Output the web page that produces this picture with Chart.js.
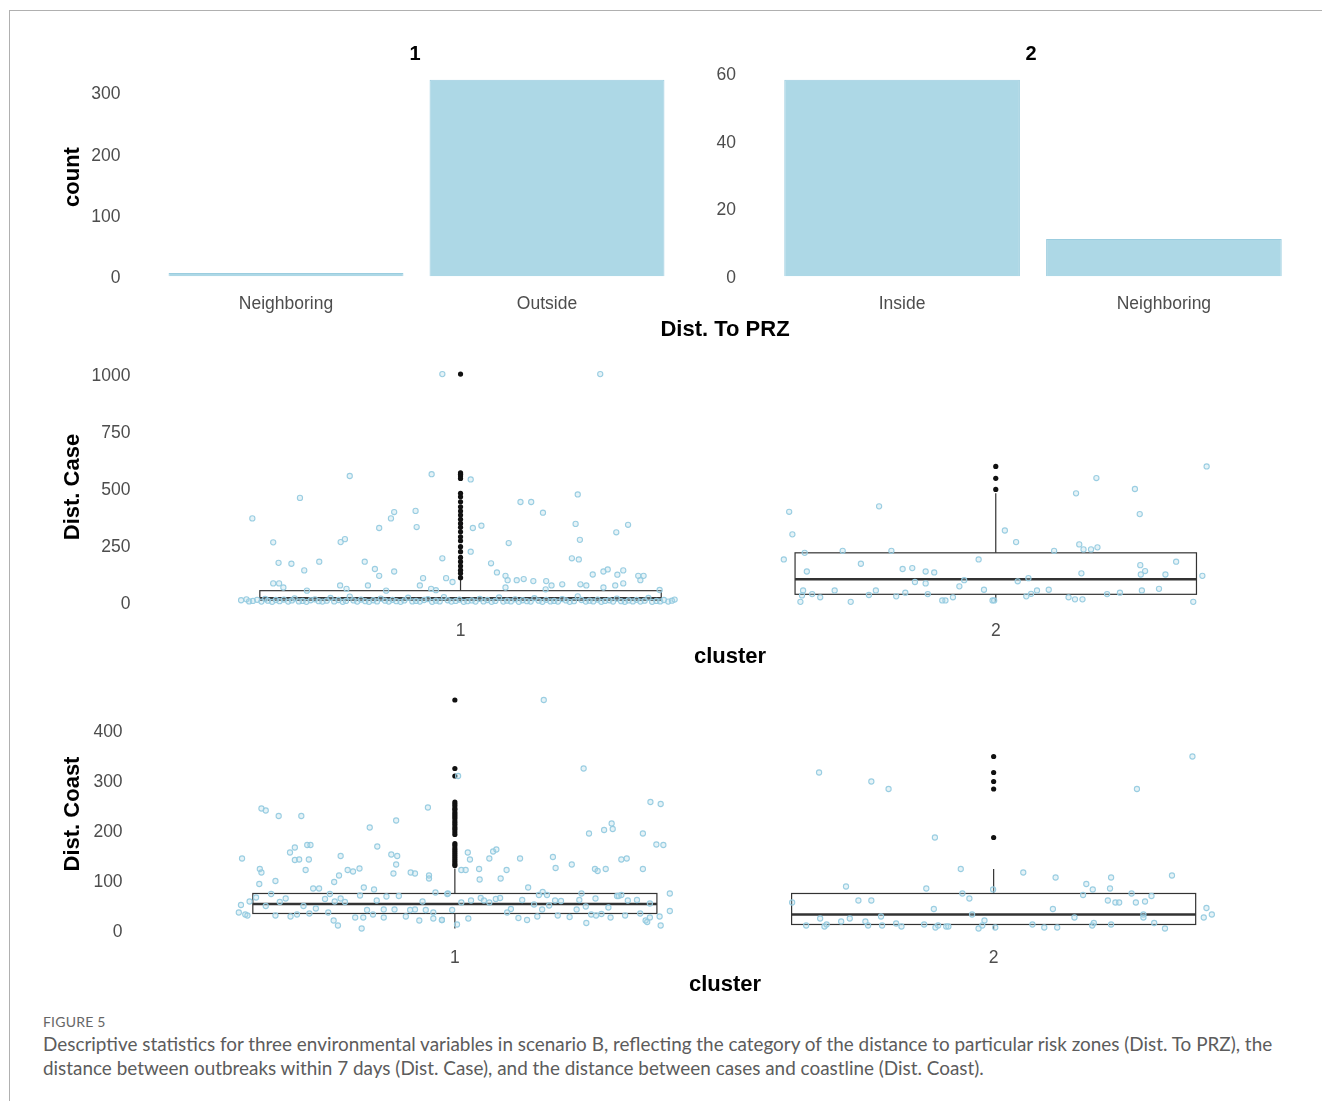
<!DOCTYPE html>
<html>
<head>
<meta charset="utf-8">
<script src="https://cdn.jsdelivr.net/npm/chart.js@4.4.1/dist/chart.umd.min.js"></script>
<style>
  body { margin: 0; background: #fff; width: 1322px; height: 1101px; position: relative; overflow: hidden; font-family: "Liberation Sans", Arial, sans-serif; }
  .frame { position: absolute; left: 9px; top: 10px; width: 1320px; height: 1100px; border-left: 1px solid #b0b0b0; border-top: 1px solid #b0b0b0; }
  .panel { position: absolute; }
  .title { position: absolute; font-weight: bold; color: #000; font-size: 22px; white-space: nowrap; transform: translate(-50%, -50%); }
  .ytitle { transform: translate(-50%, -50%) rotate(-90deg); }
  .strip { font-size: 20px; }
  .figlabel { position: absolute; left: 43px; top: 1013px; font-family: Lato, "Open Sans", sans-serif; font-size: 14px; color: #666; letter-spacing: 0.2px; }
  .caption { position: absolute; left: 43px; font-family: Lato, "Open Sans", sans-serif; font-size: 18.9px; color: #5c5c5c; white-space: nowrap; }
</style>
</head>
<body>
<div class="frame"></div>

<div class="panel" style="left:30px; top:60px; width:680px; height:260px;"><canvas id="przChart1"></canvas></div>
<div class="panel" style="left:710px; top:60px; width:612px; height:260px;"><canvas id="przChart2"></canvas></div>
<div class="panel" style="left:30px; top:350px; width:1292px; height:300px;"><canvas id="caseChart"></canvas></div>
<div class="panel" style="left:30px; top:680px; width:1292px; height:295px;"><canvas id="coastChart"></canvas></div>

<div class="title strip" style="left:415px; top:53px;">1</div>
<div class="title strip" style="left:1031px; top:53px;">2</div>
<div class="title ytitle" style="left:72px; top:177px;">count</div>
<div class="title" style="left:725px; top:329px;">Dist. To PRZ</div>
<div class="title ytitle" style="left:72px; top:487px;">Dist. Case</div>
<div class="title" style="left:730px; top:656px;">cluster</div>
<div class="title ytitle" style="left:72px; top:814px;">Dist. Coast</div>
<div class="title" style="left:725px; top:984px;">cluster</div>

<div class="figlabel">FIGURE 5</div>
<div class="caption" style="top:1032px;">Descriptive statistics for three environmental variables in scenario B, reflecting the category of the distance to particular risk zones (Dist. To PRZ), the</div>
<div class="caption" style="top:1056px;">distance between outbreaks within 7 days (Dist. Case), and the distance between cases and coastline (Dist. Coast).</div>

<script>
// top row: counts per Dist. To PRZ category, one facet per cluster
const przCats1 = ["Neighboring", "Outside"];
const przCounts1 = [5, 321];
const przCats2 = ["Inside", "Neighboring"];
const przCounts2 = [58, 11];
const countTicks1 = [0, 100, 200, 300];
const countTicks2 = [0, 20, 40, 60];

const clusterLabels = ["1", "2"];
const caseTicks = [0, 250, 500, 750, 1000];
const coastTicks = [0, 100, 200, 300, 400];

// box stats: [lower whisker, q1, median, q3, upper whisker]
const caseStats = [[0, 8, 17, 50, 105], [3, 34, 100, 216, 477]];
const coastStats = [[4, 34, 53, 74, 124], [2, 12, 32, 74, 123]];

const caseOutliers1 = [1000, 567, 561, 553, 542, 477, 462, 440, 418, 399, 382, 363, 345, 328, 308, 286, 269, 243, 221, 196, 177, 158, 140, 126, 107];
const caseOutliers2 = [595, 543, 494];
const coastOutliers1 = [461, 324, 309, 257, 253, 249, 244, 241, 236, 232, 228, 224, 219, 215, 211, 206, 202, 197, 192, 174, 170, 165, 161, 157, 153, 149, 145, 141, 137, 133, 130];
const coastOutliers2 = [348, 316, 298, 283, 186];

// jittered points: [horizontal offset from cluster, value]
const caseJitter1 = [
  [-0.389, 367], [-0.207, 553], [-0.300, 457], [-0.350, 262], [-0.340, 172], [-0.316, 168], [-0.292, 139], [-0.264, 177],
  [-0.224, 263], [-0.216, 276], [-0.179, 177], [-0.160, 145], [-0.152, 115], [-0.124, 134], [-0.152, 325], [-0.130, 367],
  [-0.124, 395], [-0.084, 400], [-0.082, 329], [-0.054, 561], [-0.034, 1000], [-0.034, 192], [-0.070, 105], [-0.027, 105],
  [-0.350, 82], [-0.339, 82], [-0.331, 64], [-0.225, 73], [-0.213, 58], [-0.173, 73], [-0.076, 73], [-0.055, 58],
  [-0.046, 52], [-0.287, 50], [-0.139, 50],
  [0.261, 1000], [0.019, 538], [0.112, 439], [0.132, 439], [0.154, 392], [0.219, 472], [0.215, 343], [0.223, 273],
  [0.023, 325], [0.039, 335], [0.090, 259], [0.019, 221], [0.057, 170], [0.068, 130], [0.084, 115], [0.088, 96],
  [0.105, 96], [0.118, 101], [0.136, 92], [0.160, 92], [0.170, 73], [0.190, 78], [0.208, 192], [0.221, 187],
  [0.224, 78], [0.235, 73], [0.247, 121], [0.267, 134], [0.275, 143], [0.267, 64], [0.291, 306], [0.313, 339],
  [0.293, 120], [0.304, 139], [0.289, 73], [0.304, 82], [0.332, 115], [0.342, 115], [0.336, 96], [0.372, 53],
  [-0.015, 88], [0.084, 64], [0.159, 56],
  [-0.41, 8], [-0.40, 12], [-0.395, 3], [-0.388, 5], [-0.38, 10], [-0.372, 2], [-0.365, 14], [-0.36, 6],
  [-0.352, 1], [-0.345, 9], [-0.338, 4], [-0.33, 11], [-0.322, 2], [-0.315, 7], [-0.31, 16], [-0.302, 3],
  [-0.295, 5], [-0.288, 1], [-0.28, 8], [-0.272, 12], [-0.265, 4], [-0.258, 2], [-0.25, 6], [-0.243, 18],
  [-0.236, 3], [-0.228, 9], [-0.22, 1], [-0.214, 5], [-0.207, 24], [-0.2, 7], [-0.193, 2], [-0.186, 11],
  [-0.178, 4], [-0.171, 1], [-0.163, 8], [-0.156, 3], [-0.149, 15], [-0.141, 6], [-0.134, 2], [-0.127, 10],
  [-0.12, 4], [-0.112, 1], [-0.105, 7], [-0.098, 19], [-0.09, 3], [-0.083, 5], [-0.076, 2], [-0.068, 9],
  [-0.061, 13], [-0.053, 1], [-0.046, 6], [-0.039, 3], [-0.031, 22], [-0.024, 8], [-0.017, 2], [-0.009, 5],
  [-0.002, 11], [0.006, 1], [0.013, 4], [0.021, 7], [0.028, 2], [0.036, 14], [0.043, 3], [0.05, 9],
  [0.058, 1], [0.065, 5], [0.072, 20], [0.08, 2], [0.087, 6], [0.094, 3], [0.102, 12], [0.109, 1],
  [0.116, 8], [0.124, 4], [0.131, 2], [0.138, 17], [0.146, 6], [0.153, 1], [0.16, 10], [0.168, 3],
  [0.175, 5], [0.182, 2], [0.19, 13], [0.197, 7], [0.204, 1], [0.212, 4], [0.219, 25], [0.226, 9],
  [0.234, 2], [0.241, 6], [0.248, 3], [0.256, 11], [0.263, 1], [0.27, 5], [0.278, 8], [0.285, 2],
  [0.292, 15], [0.3, 4], [0.307, 1], [0.314, 7], [0.322, 3], [0.329, 10], [0.336, 2], [0.344, 6],
  [0.351, 18], [0.358, 1], [0.366, 5], [0.373, 3], [0.38, 9], [0.388, 2], [0.395, 6], [0.4, 11],
];
const caseJitter2 = [
  [-0.386, 396], [-0.380, 297], [-0.396, 187], [-0.357, 216], [-0.353, 134], [-0.360, 51], [-0.362, 29], [-0.343, 35],
  [-0.328, 21], [-0.365, 1], [-0.301, 51], [-0.286, 225], [-0.271, 1], [-0.252, 168], [-0.237, 31], [-0.224, 51],
  [-0.218, 420], [-0.195, 225], [-0.186, 25], [-0.169, 41], [-0.174, 145], [-0.156, 149], [-0.131, 134], [-0.115, 130],
  [-0.151, 88], [-0.131, 82], [-0.127, 35], [-0.100, 7], [-0.094, 7], [-0.080, 21], [-0.068, 69], [-0.059, 96],
  [-0.032, 187], [-0.022, 54], [-0.006, 7], [-0.003, 7], [0.017, 314], [0.038, 263], [0.041, 91], [0.061, 105],
  [0.057, 25], [0.066, 36], [0.077, 51], [0.099, 54], [0.109, 225], [0.136, 21], [0.148, 12], [0.162, 12],
  [0.150, 477], [0.156, 253], [0.164, 231], [0.178, 231], [0.190, 240], [0.160, 126], [0.188, 544], [0.208, 35],
  [0.232, 41], [0.260, 496], [0.269, 386], [0.270, 162], [0.279, 136], [0.271, 121], [0.273, 51], [0.305, 58],
  [0.317, 121], [0.337, 177], [0.369, 1], [0.386, 115], [0.394, 595],
];
const coastJitter1 = [
  [-0.395, 144], [-0.359, 244], [-0.351, 240], [-0.327, 229], [-0.285, 229], [-0.306, 156], [-0.297, 166], [-0.297, 141],
  [-0.289, 142], [-0.271, 142], [-0.274, 171], [-0.268, 171], [-0.277, 121], [-0.362, 123], [-0.359, 116], [-0.363, 93],
  [-0.333, 99], [-0.212, 149], [-0.158, 206], [-0.144, 168], [-0.109, 220], [-0.118, 152], [-0.107, 149], [-0.109, 132],
  [-0.114, 114], [-0.199, 121], [-0.189, 118], [-0.177, 124], [-0.215, 110], [-0.224, 97], [-0.169, 86], [-0.150, 82],
  [-0.263, 84], [-0.252, 84], [-0.082, 116], [-0.074, 114], [-0.050, 246], [-0.048, 110], [-0.048, 104], [-0.217, 10],
  [-0.225, 20], [-0.173, 4], [-0.066, 20], [-0.040, 24], [-0.024, 21],
  [-0.401, 36], [-0.397, 51], [-0.389, 32], [-0.385, 30], [-0.381, 58], [-0.369, 66], [-0.351, 49], [-0.341, 73],
  [-0.333, 30], [-0.325, 57], [-0.314, 64], [-0.305, 28], [-0.293, 32], [-0.281, 49], [-0.270, 34], [-0.258, 44],
  [-0.241, 63], [-0.232, 73], [-0.235, 36], [-0.223, 58], [-0.212, 64], [-0.204, 57], [-0.185, 26], [-0.170, 26],
  [-0.176, 70], [-0.163, 41], [-0.152, 32], [-0.145, 60], [-0.132, 42], [-0.132, 26], [-0.127, 68], [-0.112, 42],
  [-0.104, 69], [-0.091, 28], [-0.083, 41], [-0.074, 42], [-0.060, 58], [-0.054, 41], [-0.040, 36], [-0.036, 76],
  [-0.014, 73],
  [0.165, 461], [0.239, 324], [0.006, 309], [0.363, 257], [0.382, 253], [0.291, 214], [0.293, 203], [0.277, 201],
  [0.249, 194], [0.349, 194], [0.374, 172], [0.387, 171], [0.024, 156], [0.028, 142], [0.064, 144], [0.071, 158],
  [0.077, 162], [0.121, 144], [0.182, 147], [0.187, 125], [0.217, 132], [0.260, 123], [0.265, 119], [0.280, 123],
  [0.309, 142], [0.319, 144], [0.349, 123], [0.012, 121], [0.020, 121], [0.045, 123], [0.046, 102], [0.085, 104],
  [0.096, 121], [0.136, 86], [0.156, 71], [0.163, 77], [0.171, 71], [0.235, 74], [0.261, 64], [0.301, 69],
  [0.309, 71], [0.399, 74], [0.399, 39], [0.380, 28], [0.382, 10], [0.354, 20], [0.357, 17], [0.362, 26],
  [0.244, 15],
  [-0.013, 74], [-0.024, 21], [-0.005, 41], [0.004, 12], [0.025, 24], [0.012, 56], [0.030, 60], [0.048, 65],
  [0.054, 60], [0.064, 56], [0.076, 63], [0.084, 65], [0.097, 36], [0.104, 43], [0.118, 25], [0.125, 61],
  [0.134, 21], [0.147, 52], [0.153, 28], [0.162, 42], [0.175, 50], [0.186, 60], [0.191, 30], [0.197, 59],
  [0.213, 27], [0.226, 42], [0.231, 61], [0.243, 48], [0.253, 32], [0.262, 30], [0.272, 33], [0.285, 46],
  [0.289, 26], [0.304, 69], [0.316, 30], [0.321, 60], [0.338, 61], [0.344, 34], [0.362, 54],
];
const coastJitter2 = [
  [-0.324, 316], [-0.227, 298], [-0.195, 283], [-0.109, 186], [0.266, 283], [0.369, 348], [-0.274, 88], [-0.061, 123],
  [0.055, 116], [0.115, 106], [0.218, 106], [0.331, 110], [0.172, 93], [0.184, 82], [0.216, 84], [-0.125, 84],
  [-0.001, 82], [-0.374, 56], [-0.251, 60], [-0.227, 60], [-0.058, 74], [-0.045, 64], [-0.111, 43], [-0.040, 32],
  [0.166, 71], [0.212, 60], [0.226, 56], [0.233, 56], [0.256, 74], [0.264, 56], [0.281, 58], [0.293, 69],
  [0.110, 43], [0.150, 26], [0.278, 32], [0.278, 26], [0.395, 45], [0.390, 26], [0.405, 32], [-0.209, 28],
  [-0.322, 24], [-0.283, 18], [-0.267, 24], [-0.238, 18], [-0.348, 10], [-0.314, 8], [-0.310, 12], [-0.233, 10],
  [-0.207, 10], [-0.181, 14], [-0.171, 8], [-0.129, 12], [-0.108, 6], [-0.103, 10], [-0.088, 8], [-0.084, 8],
  [-0.028, 4], [-0.021, 10], [-0.017, 20], [0.003, 6], [0.072, 12], [0.094, 6], [0.118, 6], [0.183, 10],
  [0.186, 15], [0.218, 12], [0.298, 15], [0.318, 4],
];

const tickFont = { family: "'Liberation Sans', Arial, sans-serif", size: 17.5 };
const tickColor = "#4d4d4d";
const barFill = "#add8e6";
const barEdge = "#9bcddf";

const boxPlugin = {
  id: "boxes",
  beforeDatasetsDraw(chart, args, opts) {
    if (!opts.stats) return;
    const { ctx } = chart;
    const x = chart.scales.x;
    const y = chart.scales.y;
    ctx.save();
    ctx.strokeStyle = "#333";
    opts.stats.forEach((s, i) => {
      const cx = i + 1;
      const [lo, q1, med, q3, hi] = s;
      const xl = x.getPixelForValue(cx - opts.width / 2);
      const xr = x.getPixelForValue(cx + opts.width / 2);
      const xm = x.getPixelForValue(cx);
      ctx.lineWidth = 1.2;
      ctx.beginPath();
      ctx.moveTo(xm, y.getPixelForValue(q3));
      ctx.lineTo(xm, y.getPixelForValue(hi));
      ctx.moveTo(xm, y.getPixelForValue(q1));
      ctx.lineTo(xm, y.getPixelForValue(lo));
      ctx.stroke();
      ctx.strokeRect(xl, y.getPixelForValue(q3), xr - xl, y.getPixelForValue(q1) - y.getPixelForValue(q3));
      ctx.lineWidth = 2.4;
      ctx.beginPath();
      ctx.moveTo(xl, y.getPixelForValue(med));
      ctx.lineTo(xr, y.getPixelForValue(med));
      ctx.stroke();
    });
    ctx.restore();
  },
};
Chart.register(boxPlugin);

function yAxis(min, max, ticks, width) {
  return {
    min: min,
    max: max,
    grid: { display: false, drawTicks: false },
    border: { display: false },
    ticks: { padding: 9, labelOffset: 2, color: tickColor, font: tickFont, callback: (v) => String(v) },
    afterBuildTicks: (s) => {
      s.ticks = ticks.map((v) => ({ value: v }));
    },
    afterFit: (s) => {
      s.width = width;
      s.paddingTop = 0;
      s.paddingBottom = 0;
    },
  };
}

function xAxis(labels, height, pad) {
  return {
    type: "linear",
    min: 0.4,
    max: 2.6,
    offset: false,
    grid: { display: false, drawTicks: false },
    border: { display: false },
    ticks: {
      padding: pad,
      color: tickColor,
      font: tickFont,
      maxRotation: 0,
      callback: (v) => labels[Math.round(v) - 1],
    },
    afterBuildTicks: (s) => {
      s.ticks = labels.map((l, i) => ({ value: i + 1 }));
    },
    afterFit: (s) => {
      s.height = height;
      s.paddingLeft = 0;
      s.paddingRight = 0;
    },
  };
}

function renderBars(id, cats, counts, yMax, ticks, yWidth, rightPad) {
  const ctx = document.getElementById(id).getContext("2d");
  new Chart(ctx, {
    type: "bar",
    data: {
      datasets: [
        {
          data: counts.map((c, i) => ({ x: i + 1, y: c })),
          backgroundColor: barFill,
          borderColor: barEdge,
          borderWidth: 1,
          barPercentage: 0.9,
          categoryPercentage: 1.0,
        },
      ],
    },
    options: {
      responsive: true,
      maintainAspectRatio: false,
      animation: false,
      layout: { padding: { top: 10, right: rightPad, left: 0, bottom: 0 } },
      plugins: { legend: { display: false }, tooltip: { enabled: false } },
      scales: {
        x: xAxis(cats, 34, 8),
        y: yAxis(-yMax * 0.05, yMax * 1.05, ticks, yWidth),
      },
    },
  });
}

function renderBoxes(id, stats, jitter1, jitter2, out1, out2, yRange, ticks, yWidth, pads, xHeight, xPad) {
  const ctx = document.getElementById(id).getContext("2d");
  const points = jitter1.map(([dx, v]) => ({ x: 1 + dx, y: v }))
    .concat(jitter2.map(([dx, v]) => ({ x: 2 + dx, y: v })));
  const outliers = out1.map((v) => ({ x: 1, y: v }))
    .concat(out2.map((v) => ({ x: 2, y: v })));

  new Chart(ctx, {
    type: "scatter",
    data: {
      datasets: [
        {
          data: points,
          pointRadius: 2.6,
          borderWidth: 1.1,
          borderColor: "rgba(150, 203, 224, 0.95)",
          backgroundColor: "rgba(173, 216, 230, 0.3)",
        },
        {
          data: outliers,
          pointRadius: 2.6,
          borderWidth: 0,
          backgroundColor: "#111",
        },
      ],
    },
    options: {
      responsive: true,
      maintainAspectRatio: false,
      animation: false,
      layout: { padding: { top: pads[0], right: pads[1], left: 0, bottom: 0 } },
      plugins: {
        legend: { display: false },
        tooltip: { enabled: false },
        boxes: { stats: stats, width: 0.75 },
      },
      scales: {
        x: xAxis(clusterLabels, xHeight, xPad),
        y: yAxis(yRange[0], yRange[1], ticks, yWidth),
      },
    },
  });
}

renderBars("przChart1", przCats1, przCounts1, 321, countTicks1, 99.4, 6.4);
renderBars("przChart2", przCats2, przCounts2, 58, countTicks2, 35, 1);
renderBoxes("caseChart", caseStats, caseJitter1, caseJitter2, caseOutliers1, caseOutliers2,
  [-50.15, 1053.15], caseTicks, 109.4, [12, 3.4], 36.5, 7.5);
renderBoxes("coastChart", coastStats, coastJitter1, coastJitter2, coastOutliers1, coastOutliers2,
  [-23.05, 484.05], coastTicks, 101.6, [8.5, 4.6], 33, 6);
</script>
</body>
</html>
